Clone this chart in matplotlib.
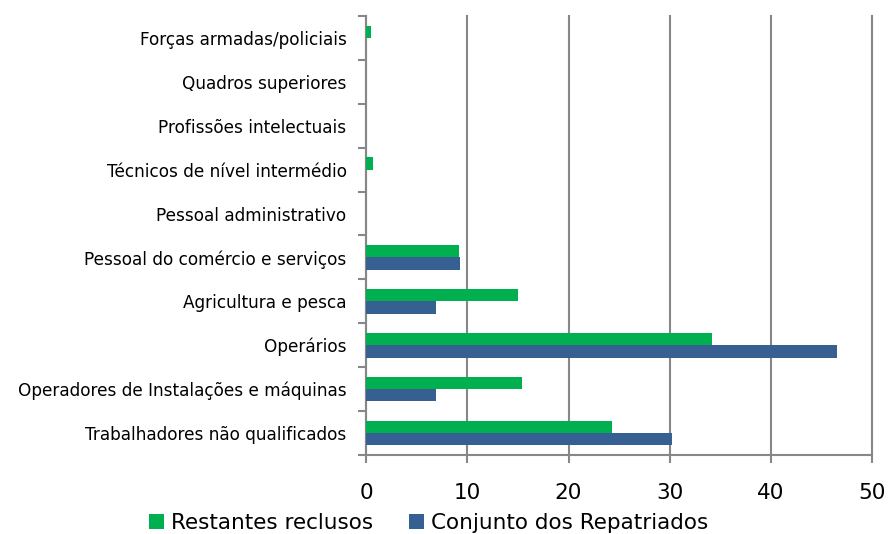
import matplotlib.pyplot as plt
import numpy as np

# categories from bottom to top
categorias = ["Trabalhadores não qualificados", "Operadores de Instalações e máquinas",
              "Operários", "Agricultura e pesca", "Pessoal do comércio e serviços",
              "Pessoal administrativo", "Técnicos de nível intermédio",
              "Profissões intelectuais", "Quadros superiores", "Forças armadas/policiais"]
restantes = [24.3, 15.4, 34.2, 15.0, 9.15, 0, 0.65, 0, 0, 0.45]
repatriados = [30.2, 6.95, 46.5, 6.95, 9.3, 0, 0, 0, 0, 0]

verde = "#00B050"
azul = "#376092"
cinza = "#878787"

fig = plt.figure(figsize=(8.89, 5.34), dpi=100)
ax = fig.add_axes([0.4117, 0.148, 0.5695, 0.822])

y = np.arange(len(categorias))
h = 0.28
ax.barh(y + h / 2, restantes, height=h, color=verde, label="Restantes reclusos", zorder=3)
ax.barh(y - h / 2, repatriados, height=h, color=azul, label="Conjunto dos Repatriados", zorder=3)

ax.set_xlim(0, 50)
ax.set_ylim(-0.5, len(categorias) - 0.5)
ax.set_xticks([0, 10, 20, 30, 40, 50])
ax.tick_params(axis="x", labelsize=15.5, pad=14, length=6, color=cinza, width=1.5)
ax.set_yticks(y)
ax.set_yticklabels(categorias, fontsize=12.2)
ax.tick_params(axis="y", which="major", length=0, pad=14)
ax.set_yticks(np.arange(-0.5, len(categorias)), minor=True)
ax.tick_params(axis="y", which="minor", length=6, color=cinza, width=1.5)

ax.grid(axis="x", color=cinza, linewidth=1.5, zorder=0, clip_on=False)
for s in ["top", "right"]:
    ax.spines[s].set_visible(False)
for s in ["left", "bottom"]:
    ax.spines[s].set_color(cinza)
    ax.spines[s].set_linewidth(1.5)

fig.legend(loc="lower center", bbox_to_anchor=(0.482, -0.035), ncol=2, frameon=False,
           fontsize=15.5, handlelength=0.7, handleheight=0.7, handletextpad=0.3, columnspacing=1.7)

fig.savefig("out.png", dpi=100)
